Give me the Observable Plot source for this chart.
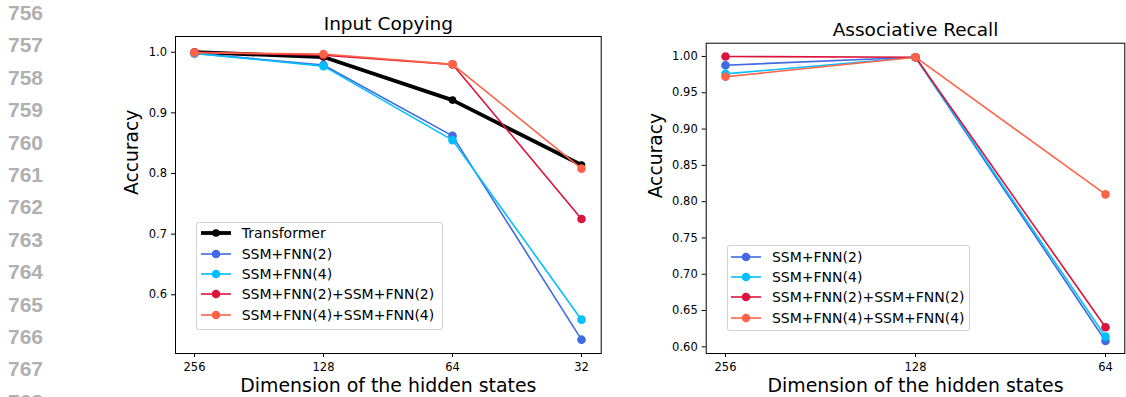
<!DOCTYPE html>
<html>
<head>
<meta charset="utf-8">
<script src="https://cdn.jsdelivr.net/npm/d3@7"></script>
<script src="https://cdn.jsdelivr.net/npm/@observablehq/plot@0.6"></script>
<style>
  html, body { margin: 0; padding: 0; background: #fff; }
  #root { position: relative; width: 1126px; height: 397px; overflow: hidden; background: #fff; font-family: "DejaVu Sans", sans-serif; }
  .gutter { position: absolute; left: 8px; font-family: "Liberation Sans", Arial, sans-serif; font-weight: bold; font-size: 21px; color: #b0b0b0; line-height: 1; }
  .plotbox { position: absolute; top: 0; }
  .legend { position: absolute; border: 1px solid rgba(204,204,204,0.9); border-radius: 3px; background: rgba(255,255,255,0.8); box-sizing: border-box; }
  .lrow { position: absolute; height: 20px; display: flex; align-items: center; font-family: "DejaVu Sans", sans-serif; font-size: 14px; color: #000; white-space: nowrap; }
  .lrow svg { display: block; }
</style>
</head>
<body>
<div id="root"></div>
<script>
// ---------------- data ----------------
const lineNumbers = [756, 757, 758, 759, 760, 761, 762, 763, 764, 765, 766, 767, 768];

const copyDims = ["256", "128", "64", "32"];
const recallDims = ["256", "128", "64"];

const copySeries = ["Transformer", "SSM+FNN(2)", "SSM+FNN(4)", "SSM+FNN(2)+SSM+FNN(2)", "SSM+FNN(4)+SSM+FNN(4)"];
const recallSeries = ["SSM+FNN(2)", "SSM+FNN(4)", "SSM+FNN(2)+SSM+FNN(2)", "SSM+FNN(4)+SSM+FNN(4)"];

const copyTransformer = [1.000, 0.992, 0.921, 0.814];
const copySSM2        = [0.998, 0.979, 0.862, 0.526];
const copySSM4        = [0.998, 0.977, 0.855, 0.559];
const copySSM2x2      = [1.000, 0.995, 0.980, 0.725];
const copySSM4x2      = [0.999, 0.997, 0.980, 0.808];

const recallSSM2   = [0.988, 0.999, 0.608];
const recallSSM4   = [0.976, 0.999, 0.614];
const recallSSM2x2 = [1.000, 0.999, 0.627];
const recallSSM4x2 = [0.972, 0.999, 0.810];

const copyTicks = [0.6, 0.7, 0.8, 0.9, 1.0];
const recallTicks = [0.60, 0.65, 0.70, 0.75, 0.80, 0.85, 0.90, 0.95, 1.00];

const seriesColors = {
  "Transformer": "#000000",
  "SSM+FNN(2)": "#4169e1",
  "SSM+FNN(4)": "#00bfff",
  "SSM+FNN(2)+SSM+FNN(2)": "#dc143c",
  "SSM+FNN(4)+SSM+FNN(4)": "#ff6347"
};

// ---------------- helpers ----------------
const root = document.getElementById("root");

function styleFor(name) {
  return name === "Transformer" ? {sw: 3.8, r: 3.8} : {sw: 1.6, r: 4.3};
}

function seriesMarks(dims, values, name) {
  const data = dims.map((d, i) => ({dim: d, acc: values[i]}));
  const c = seriesColors[name], s = styleFor(name);
  return [
    Plot.line(data, {x: "dim", y: "acc", stroke: c, strokeWidth: s.sw}),
    Plot.dot(data, {x: "dim", y: "acc", r: s.r, fill: c, stroke: "none"})
  ];
}

function makePlot(cfg) {
  const marks = [];
  cfg.series.forEach((name, i) => marks.push(...seriesMarks(cfg.dims, cfg.values[i], name)));
  return Plot.plot({
    width: cfg.width,
    height: 397,
    marginTop: cfg.marginTop,
    marginBottom: 397 - 353,
    marginLeft: cfg.marginLeft,
    marginRight: cfg.marginRight,
    style: {background: "none", fontFamily: "DejaVu Sans", color: "#000", overflow: "visible"},
    x: {type: "point", domain: cfg.dims, padding: cfg.padding, label: null},
    y: {domain: cfg.yDomain, label: null},
    marks: [
      ...marks,
      Plot.frame({stroke: "#000", strokeWidth: 1}),
      Plot.axisX({tickSize: 4, tickPadding: 5, fontSize: 11.5, label: null}),
      Plot.axisY({ticks: cfg.ticks, tickFormat: cfg.tickFormat, tickSize: 4, tickPadding: 4.5, fontSize: 11.5, label: null}),
      Plot.text([cfg.title], {text: d => d, frameAnchor: "top", lineAnchor: "bottom", dy: -7, fontSize: 18.5, fill: "#000"}),
      Plot.text(["Dimension of the hidden states"], {text: d => d, frameAnchor: "bottom", lineAnchor: "bottom", dy: 38, fontSize: 18.9, fill: "#000"}),
      Plot.text(["Accuracy"], {text: d => d, frameAnchor: "left", rotate: -90, lineAnchor: "bottom", dx: cfg.yLabelDx, fontSize: 18.7, fill: "#000"})
    ]
  });
}

function addPlot(left, svg) {
  const box = document.createElement("div");
  box.className = "plotbox";
  box.style.left = left + "px";
  box.appendChild(svg);
  root.appendChild(box);
}

function addLegend(cfg) {
  const lg = document.createElement("div");
  lg.className = "legend";
  lg.style.left = cfg.left + "px";
  lg.style.top = cfg.top + "px";
  lg.style.width = cfg.width + "px";
  lg.style.height = cfg.height + "px";
  root.appendChild(lg);
  cfg.series.forEach((name, i) => {
    const c = seriesColors[name], s = styleFor(name);
    const row = document.createElement("div");
    row.className = "lrow";
    row.style.left = (cfg.lineX - cfg.left - 1) + "px";
    row.style.top = (cfg.firstRow - cfg.top - 1 + i * 20.33 - 10) + "px";
    row.innerHTML =
      `<svg width="30" height="20"><line x1="0" x2="30" y1="10" y2="10" stroke="${c}" stroke-width="${s.sw}"/>` +
      `<circle cx="15" cy="10" r="${s.r}" fill="${c}"/></svg>` +
      `<span style="margin-left:11px">${name}</span>`;
    lg.appendChild(row);
  });
}

// ---------------- gutter ----------------
lineNumbers.forEach((n, i) => {
  const d = document.createElement("div");
  d.className = "gutter";
  d.style.top = (2 + i * 32.4) + "px";
  d.textContent = n;
  root.appendChild(d);
});

// ---------------- left: Input Copying ----------------
addPlot(100, makePlot({
  width: 520, marginLeft: 75, marginRight: 19.3, marginTop: 36,
  dims: copyDims, padding: 0.15,
  yDomain: [0.5032, 1.0259], ticks: copyTicks, tickFormat: d => d.toFixed(1),
  series: copySeries,
  values: [copyTransformer, copySSM2, copySSM4, copySSM2x2, copySSM4x2],
  title: "Input Copying", yLabelDx: -37.5
}));

// ---------------- right: Associative Recall ----------------
addPlot(620, makePlot({
  width: 506, marginLeft: 85.7, marginRight: 1.7, marginTop: 42.7,
  dims: recallDims, padding: 0.1,
  yDomain: [0.5908, 1.0183], ticks: recallTicks, tickFormat: d => d.toFixed(2),
  series: recallSeries,
  values: [recallSSM2, recallSSM4, recallSSM2x2, recallSSM4x2],
  title: "Associative Recall", yLabelDx: -44.7
}));

// ---------------- legends ----------------
addLegend({left: 195.7, top: 221.7, width: 247.3, height: 108.3, lineX: 200.7, firstRow: 233.3, series: copySeries});
addLegend({left: 726.7, top: 245, width: 243.3, height: 86, lineX: 731, firstRow: 256.7, series: recallSeries});
</script>
</body>
</html>
